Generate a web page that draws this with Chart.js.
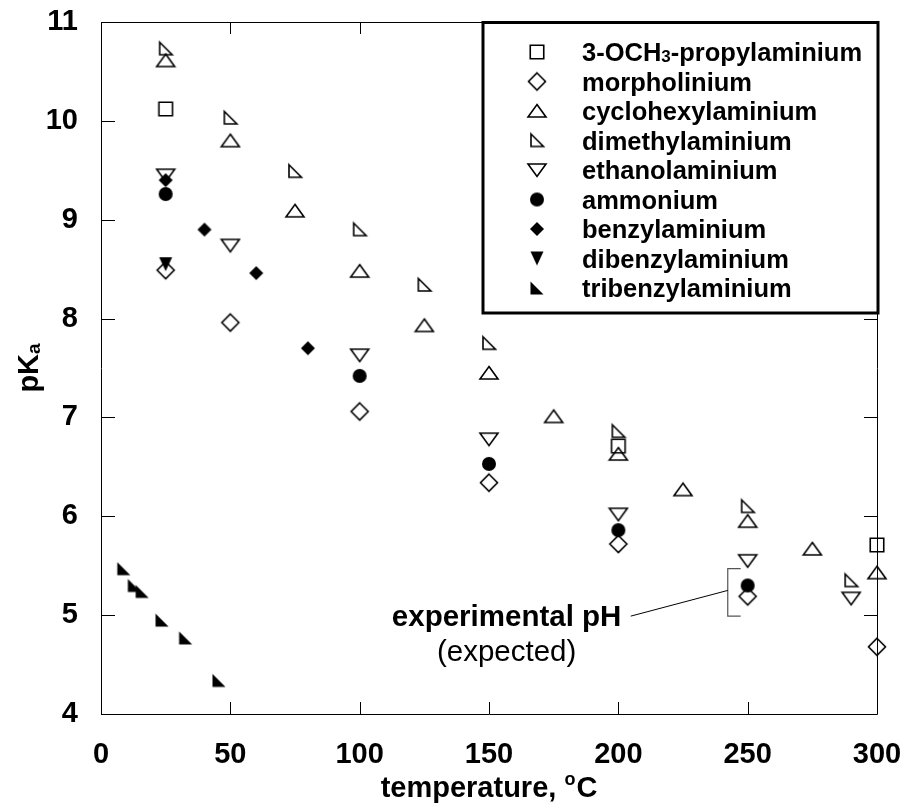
<!DOCTYPE html>
<html>
<head>
<meta charset="utf-8">
<script src="https://cdn.jsdelivr.net/npm/chart.js@4.4.0/dist/chart.umd.min.js"></script>
<style>
  html, body { margin: 0; padding: 0; background: #fff; }
</style>
</head>
<body>
<canvas id="chart" width="906" height="803"></canvas>
<script>
var FONT = '"Liberation Sans", Arial, Helvetica, sans-serif';

// pKa of the amines vs temperature (degC)
var och3Temp = [25, 200, 300];
var och3Pka = [10.12, 6.71, 5.71];

var morphTemp = [25, 50, 100, 150, 200, 250, 300];
var morphPka = [8.49, 7.96, 7.06, 6.34, 5.72, 5.19, 4.68];

var cycloTemp = [25, 50, 75, 100, 125, 150, 175, 200, 225, 250, 275, 300];
var cycloPka = [10.61, 9.80, 9.09, 8.48, 7.93, 7.45, 7.01, 6.63, 6.27, 5.95, 5.67, 5.43];

var dimethTemp = [25, 50, 75, 100, 125, 150, 200, 250, 290];
var dimethPka = [10.73, 10.03, 9.49, 8.90, 8.34, 7.75, 6.86, 6.10, 5.35];

var ethanolTemp = [25, 50, 100, 150, 200, 250, 290];
var ethanolPka = [9.45, 8.74, 7.63, 6.78, 6.02, 5.55, 5.17];

var ammTemp = [25, 100, 150, 200, 250];
var ammPka = [9.26, 7.42, 6.53, 5.86, 5.30];

var benzTemp = [25, 40, 60, 80];
var benzPka = [9.40, 8.90, 8.46, 7.70];

var dibenzTemp = [25];
var dibenzPka = [8.55];

var tribenzTemp = [8.8, 12.9, 15.9, 23.6, 32.7, 45.6];
var tribenzPka = [5.47, 5.30, 5.24, 4.95, 4.77, 4.34];

var seriesNames = ['3-OCH3-propylaminium', 'morpholinium', 'cyclohexylaminium',
  'dimethylaminium', 'ethanolaminium', 'ammonium', 'benzylaminium',
  'dibenzylaminium', 'tribenzylaminium'];
var seriesShapes = ['square', 'diamond', 'triUp', 'rightTri', 'triDown',
  'dot', 'diamondFill', 'triDownFill', 'rightTriFill'];

var xTicks = [0, 50, 100, 150, 200, 250, 300];
var yTicks = [4, 5, 6, 7, 8, 9, 10, 11];

// "experimental pH (expected)" note with its bracket, in data units
var bracketX = [242.3, 247.3];
var bracketY = [4.99, 5.47];
var leaderFrom = [204.8, 4.99];
var leaderTo = [242.3, 5.25];
var noteX = 156.8;
var noteY = [4.97, 4.62];

function zip(t, v) {
  return t.map(function (x, i) { return { x: x, y: v[i] }; });
}

// small canvases used as point styles
function marker(kind) {
  var c = document.createElement('canvas');
  c.width = 22; c.height = 22;
  var g = c.getContext('2d');
  var m = 11;
  g.lineWidth = 1.6;
  g.strokeStyle = '#000';
  g.fillStyle = '#000';
  g.beginPath();
  switch (kind) {
    case 'square':
      g.rect(m - 6.75, m - 6.75, 13.5, 13.5); g.stroke(); break;
    case 'diamond':
      g.moveTo(m, m - 8.5); g.lineTo(m + 8.5, m); g.lineTo(m, m + 8.5); g.lineTo(m - 8.5, m);
      g.closePath(); g.stroke(); break;
    case 'triUp':
      g.moveTo(m, m - 6.5); g.lineTo(m + 9, m + 6); g.lineTo(m - 9, m + 6);
      g.closePath(); g.stroke(); break;
    case 'triDown':
      g.moveTo(m - 9, m - 6); g.lineTo(m + 9, m - 6); g.lineTo(m, m + 6.5);
      g.closePath(); g.stroke(); break;
    case 'rightTri':
      g.moveTo(m - 6, m - 6.5); g.lineTo(m + 6.5, m + 6); g.lineTo(m - 6, m + 6);
      g.closePath(); g.stroke(); break;
    case 'dot':
      g.arc(m, m, 7, 0, Math.PI * 2); g.fill(); break;
    case 'diamondFill':
      g.moveTo(m, m - 7); g.lineTo(m + 7, m); g.lineTo(m, m + 7); g.lineTo(m - 7, m);
      g.closePath(); g.fill(); break;
    case 'triDownFill':
      g.moveTo(m - 6.5, m - 7); g.lineTo(m + 6.5, m - 7); g.lineTo(m, m + 7);
      g.closePath(); g.fill(); break;
    case 'rightTriFill':
      g.moveTo(m - 6.5, m - 6.5); g.lineTo(m + 6.5, m + 6.5); g.lineTo(m - 6.5, m + 6.5);
      g.closePath(); g.fill(); break;
  }
  return c;
}

var markers = seriesShapes.map(marker);
var seriesData = [
  zip(och3Temp, och3Pka), zip(morphTemp, morphPka), zip(cycloTemp, cycloPka),
  zip(dimethTemp, dimethPka), zip(ethanolTemp, ethanolPka), zip(ammTemp, ammPka),
  zip(benzTemp, benzPka), zip(dibenzTemp, dibenzPka), zip(tribenzTemp, tribenzPka)
];

var datasets = seriesNames.map(function (name, i) {
  return {
    label: name,
    data: seriesData[i],
    pointStyle: markers[i],
    showLine: false,
    clip: false
  };
});

// box with inward tick marks on all four sides
var framePlugin = {
  id: 'frame',
  beforeDatasetsDraw: function (chart) {
    var ctx = chart.ctx, a = chart.chartArea;
    var xs = chart.scales.x, ys = chart.scales.y;
    ctx.save();
    ctx.strokeStyle = '#000';
    ctx.lineWidth = 1;
    ctx.beginPath();
    ctx.rect(a.left + 0.5, a.top + 0.5, a.right - a.left, a.bottom - a.top);
    xTicks.forEach(function (t) {
      var px = Math.round(xs.getPixelForValue(t)) + 0.5;
      ctx.moveTo(px, a.bottom); ctx.lineTo(px, a.bottom - 12);
      ctx.moveTo(px, a.top); ctx.lineTo(px, a.top + 12);
    });
    yTicks.forEach(function (t) {
      var py = Math.round(ys.getPixelForValue(t)) + 0.5;
      ctx.moveTo(a.left, py); ctx.lineTo(a.left + 14, py);
      ctx.moveTo(a.right, py); ctx.lineTo(a.right - 13, py);
    });
    ctx.stroke();
    ctx.restore();
  }
};

// axis titles with super/subscripts
var titlePlugin = {
  id: 'titles',
  afterDraw: function (chart) {
    var ctx = chart.ctx, a = chart.chartArea;
    ctx.save();
    ctx.fillStyle = '#000';
    ctx.textBaseline = 'alphabetic';
    ctx.textAlign = 'left';

    var big = 'bold 29px ' + FONT, sup = 'bold 18px ' + FONT;
    ctx.font = big;
    var w1 = ctx.measureText('temperature, ').width;
    var w3 = ctx.measureText('C').width;
    ctx.font = sup;
    var w2 = ctx.measureText('o').width + 1;
    var x0 = (a.left + a.right) / 2 - (w1 + w2 + w3) / 2;
    var base = 797;
    ctx.font = big;
    ctx.fillText('temperature, ', x0, base);
    ctx.font = sup;
    ctx.fillText('o', x0 + w1, base - 12);
    ctx.font = big;
    ctx.fillText('C', x0 + w1 + w2, base);

    ctx.translate(38, (a.top + a.bottom) / 2);
    ctx.rotate(-Math.PI / 2);
    ctx.font = big;
    var p1 = ctx.measureText('pK').width;
    ctx.font = 'bold 19px ' + FONT;
    var p2 = ctx.measureText('a').width;
    var s = -(p1 + p2) / 2;
    ctx.font = big;
    ctx.fillText('pK', s, 0);
    ctx.font = 'bold 19px ' + FONT;
    ctx.fillText('a', s + p1, 2);
    ctx.restore();
  }
};

// legend box drawn inside the plot, top right
var legendPlugin = {
  id: 'boxLegend',
  afterDraw: function (chart) {
    var ctx = chart.ctx;
    var box = { l: 483, t: 22.5, r: 878, b: 313 };
    ctx.save();
    ctx.fillStyle = '#fff';
    ctx.fillRect(box.l, box.t, box.r - box.l, box.b - box.t);
    ctx.strokeStyle = '#000';
    ctx.lineWidth = 3;
    ctx.strokeRect(box.l, box.t, box.r - box.l, box.b - box.t);

    var font = 'bold 25.5px ' + FONT, sub = 'bold 17px ' + FONT;
    ctx.fillStyle = '#000';
    ctx.textBaseline = 'alphabetic';
    seriesNames.forEach(function (name, i) {
      var cy = 52 + i * 29.5;
      var mk = markers[i];
      ctx.drawImage(mk, 537 - mk.width / 2, cy - mk.height / 2);
      var base = cy + 9;
      var x = 582;
      var m = name.match(/^(3-OCH)(3)(-.*)$/);
      if (m) {
        ctx.font = font; ctx.fillText(m[1], x, base); x += ctx.measureText(m[1]).width;
        ctx.font = sub; ctx.fillText(m[2], x, base + 1); x += ctx.measureText(m[2]).width;
        ctx.font = font; ctx.fillText(m[3], x, base);
      } else {
        ctx.font = font; ctx.fillText(name, x, base);
      }
    });
    ctx.restore();
  }
};

// bracket, leader line and note
var notePlugin = {
  id: 'note',
  afterDraw: function (chart) {
    var ctx = chart.ctx, xs = chart.scales.x, ys = chart.scales.y;
    var X = function (v) { return xs.getPixelForValue(v); };
    var Y = function (v) { return ys.getPixelForValue(v); };
    ctx.save();
    ctx.strokeStyle = '#555';
    ctx.lineWidth = 1.2;
    ctx.beginPath();
    ctx.moveTo(X(bracketX[1]), Y(bracketY[1]));
    ctx.lineTo(X(bracketX[0]), Y(bracketY[1]));
    ctx.lineTo(X(bracketX[0]), Y(bracketY[0]));
    ctx.lineTo(X(bracketX[1]), Y(bracketY[0]));
    ctx.stroke();
    ctx.strokeStyle = '#000';
    ctx.lineWidth = 1;
    ctx.beginPath();
    ctx.moveTo(X(leaderFrom[0]), Y(leaderFrom[1]));
    ctx.lineTo(X(leaderTo[0]), Y(leaderTo[1]));
    ctx.stroke();
    ctx.fillStyle = '#000';
    ctx.textAlign = 'center';
    ctx.textBaseline = 'middle';
    ctx.font = 'bold 29.5px ' + FONT;
    ctx.fillText('experimental pH', X(noteX), Y(noteY[0]));
    ctx.font = '29.5px ' + FONT;
    ctx.fillText('(expected)', X(noteX), Y(noteY[1]));
    ctx.restore();
  }
};

var tickFont = { family: FONT, size: 29, weight: 'bold' };

// drop the label overhang padding so the plot box sits where the layout puts it
function noOverhang(s) {
  s.paddingTop = 0; s.paddingBottom = 0; s.paddingLeft = 0; s.paddingRight = 0;
}

new Chart(document.getElementById('chart').getContext('2d'), {
  type: 'scatter',
  data: { datasets: datasets },
  options: {
    responsive: false,
    animation: false,
    layout: { padding: { left: 0, right: 29, top: 22, bottom: 0 } },
    plugins: { legend: { display: false }, tooltip: { enabled: false } },
    scales: {
      x: {
        type: 'linear', min: 0, max: 300,
        afterBuildTicks: function (s) { s.ticks = xTicks.map(function (v) { return { value: v }; }); },
        ticks: { font: tickFont, color: '#000', padding: 24 },
        grid: { display: false, drawTicks: false },
        border: { display: false },
        afterFit: function (s) { noOverhang(s); s.height = 89; }
      },
      y: {
        type: 'linear', min: 4, max: 11,
        afterBuildTicks: function (s) { s.ticks = yTicks.map(function (v) { return { value: v }; }); },
        ticks: { font: tickFont, color: '#000', padding: 23 },
        grid: { display: false, drawTicks: false },
        border: { display: false },
        afterFit: function (s) { noOverhang(s); s.width = 101; }
      }
    }
  },
  plugins: [framePlugin, titlePlugin, legendPlugin, notePlugin]
});
</script>
</body>
</html>
